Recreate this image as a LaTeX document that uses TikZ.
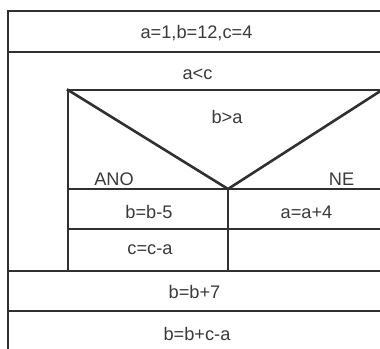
\documentclass[tikz,border=0pt]{standalone}
\usepackage{fontspec}
\setmainfont{Liberation Sans}
\definecolor{rule}{HTML}{303030}
\definecolor{ink}{HTML}{3A3A3A}
\begin{document}
\begin{tikzpicture}[x=1pt,y=-1pt]
\tikzset{
  frame/.style={draw=rule, line width=2.6pt, line cap=rect},
  lbl/.style={text=ink, font=\fontsize{18.2}{20}\selectfont, inner sep=0pt, anchor=base}
}
\useasboundingbox (0,0) rectangle (380,348);

% outer frame and block boundaries
\coordinate (L) at (8,0);
\coordinate (I) at (68,0);
\coordinate (M) at (228,0);
\coordinate (R) at (383,0);
\draw[frame] (L |- 0,11) -- (R |- 0,11);
\draw[frame] (L |- 0,11) -- (L |- 0,360);
\draw[frame] (L |- 0,52) -- (R |- 0,52);
\draw[frame] (L |- 0,271) -- (R |- 0,271);
\draw[frame] (L |- 0,311) -- (R |- 0,311);

% loop body: decision block
\draw[frame] (I |- 0,90) -- (R |- 0,90);
\draw[frame] (I |- 0,90) -- (I |- 0,271);
\coordinate (V) at (228,189);
\draw[frame] (I |- 0,90) -- (V) -- (382,90);
\draw[frame] (I |- 0,189) -- (R |- 0,189);
\draw[frame] (I |- 0,229) -- (R |- 0,229);
\draw[frame] (V) -- (M |- 0,271);

% texts
\node[lbl] (init) at (196.5,38) {a=1,b=12,c=4};
\node[lbl] (loop) at (197.5,79.5) {a<c};
\node[lbl] (cond) at (227,123) {b>a};
\node[lbl] (yes) at (114,185) {ANO};
\node[lbl] (no) at (341.5,185) {NE};
\node[lbl] (s1) at (149,218) {b=b-5};
\node[lbl] (s2) at (306.5,218) {a=a+4};
\node[lbl] (s3) at (150,254) {c=c-a};
\node[lbl] (s4) at (194.5,298) {b=b+7};
\node[lbl] (s5) at (197,340) {b=b+c-a};
\end{tikzpicture}
\end{document}
